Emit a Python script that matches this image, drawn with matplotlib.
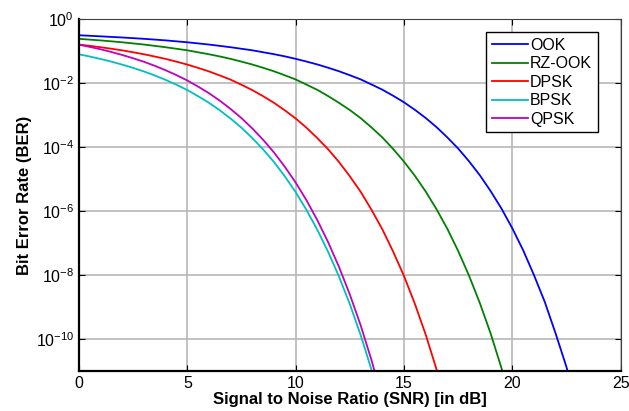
import matplotlib
matplotlib.use("Agg")
import matplotlib.pyplot as plt
from matplotlib.ticker import FixedLocator, LogFormatterMathtext

plt.rcParams["font.family"] = ["Liberation Sans", "DejaVu Sans"]
plt.rcParams["mathtext.fontset"] = "custom"
plt.rcParams["mathtext.rm"] = "Liberation Sans"
plt.rcParams["mathtext.it"] = "Liberation Sans"

# values (SNR in dB -> BER)
ook_snr = [0, 1, 2, 3, 4, 5, 6, 7, 8, 9, 9.5, 10, 10.5, 11, 11.5, 12, 12.5,
           13, 13.5, 14, 14.5, 15, 15.5, 16, 16.5, 17, 17.5, 18, 18.5, 19,
           19.5, 20, 20.5, 21, 21.5, 22, 22.5, 23]
ook = [0.31, 0.287, 0.264, 0.240, 0.2145, 0.187, 0.159, 0.131, 0.105, 0.0795,
       0.068, 0.0569, 0.0468, 0.038, 0.030, 0.0233, 0.0175, 0.013, 0.0090,
       0.0062, 0.0040, 0.0025, 0.00146, 8.1e-4, 4.2e-4, 2.0e-4, 9.0e-5,
       3.6e-5, 1.32e-5, 4.2e-6, 1.2e-6, 2.9e-7, 6.0e-8, 1.0e-8, 1.45e-9,
       1.5e-10, 1.35e-11, 8.3e-13]

rz_snr = [0, 1, 2, 3, 4, 5, 6, 6.5, 7, 7.5, 8, 8.5, 9, 9.5, 10, 10.5, 11,
          11.5, 12, 12.5, 13, 13.5, 14, 14.5, 15, 15.5, 16, 16.5, 17, 17.5,
          18, 18.5, 19, 19.5, 20]
rz_ook = [0.24, 0.214, 0.187, 0.159, 0.131, 0.105, 0.079, 0.0675, 0.0567,
          0.0466, 0.0378, 0.0298, 0.0232, 0.0174, 0.0129, 0.0089, 0.0061,
          0.0039, 0.0024, 0.00143, 8.0e-4, 4.1e-4, 2.0e-4, 8.7e-5, 3.5e-5,
          1.27e-5, 4.1e-6, 1.15e-6, 2.8e-7, 5.7e-8, 9.7e-9, 1.35e-9, 1.5e-10,
          1.25e-11, 7.7e-13]

dpsk_snr = [0, 0.5, 1, 1.5, 2, 2.5, 3, 3.5, 4, 4.5, 5, 5.5, 6, 6.5, 7, 7.5,
            8, 8.5, 9, 9.5, 10, 10.5, 11, 11.5, 12, 12.5, 13, 13.5, 14, 14.5,
            15, 15.5, 16, 16.5, 17]
dpsk = [0.1587, 0.145, 0.131, 0.1175, 0.1046, 0.0911, 0.0789, 0.0671, 0.0565,
        0.0464, 0.0376, 0.0296, 0.023, 0.0172, 0.0127, 0.0088, 0.006, 0.00386,
        0.0024, 0.0014, 7.8e-4, 4.0e-4, 1.9e-4, 8.5e-5, 3.4e-5, 1.22e-5,
        4.0e-6, 1.1e-6, 2.7e-7, 5.4e-8, 9.4e-9, 1.28e-9, 1.4e-10, 1.15e-11,
        7.2e-13]

psk_snr = [0, 0.5, 1, 1.5, 2, 2.5, 3, 3.5, 4, 4.5, 5, 5.5, 6, 6.5, 7, 7.5, 8,
           8.5, 9, 9.5, 10, 10.5, 11, 11.5, 12, 12.5, 13, 13.5, 14]
bpsk = [0.0786, 0.0671, 0.0563, 0.0464, 0.0374, 0.0296, 0.0229, 0.0172,
        0.0125, 0.0088, 0.006, 0.00386, 0.0024, 0.0014, 7.7e-4, 4.0e-4,
        1.9e-4, 8.4e-5, 3.4e-5, 1.21e-5, 3.9e-6, 1.08e-6, 2.6e-7, 5.3e-8,
        9.0e-9, 1.24e-9, 1.34e-10, 1.1e-11, 6.8e-13]
qpsk = [0.157, 0.134, 0.113, 0.0928, 0.075, 0.0592, 0.046, 0.0344, 0.025,
        0.0176, 0.012, 0.0077, 0.0048, 0.0028, 1.54e-3, 8.0e-4, 3.8e-4,
        1.68e-4, 6.75e-5, 2.42e-5, 7.75e-6, 2.17e-6, 5.2e-7, 1.06e-7, 1.8e-8,
        2.48e-9, 2.7e-10, 2.2e-11, 1.4e-12]

series = [
    ("OOK", ook_snr, ook, "#0000ff"),
    ("RZ-OOK", rz_snr, rz_ook, "#008000"),
    ("DPSK", dpsk_snr, dpsk, "#ff0000"),
    ("BPSK", psk_snr, bpsk, "#00bfbf"),
    ("QPSK", psk_snr, qpsk, "#bf00bf"),
]

fig = plt.figure(figsize=(6.29, 4.11), dpi=100)
ax = fig.add_axes([0.1256, 0.0973, 0.861, 0.8565])

for name, x, vals, col in series:
    ax.semilogy(x, vals, color=col, lw=1.3, label=name)

ax.set_xlim(0, 25)
ax.set_ylim(1e-11, 1)
ax.set_xticks([0, 5, 10, 15, 20, 25])
ax.yaxis.set_major_locator(FixedLocator([1e-10, 1e-8, 1e-6, 1e-4, 1e-2, 1]))
ax.yaxis.set_major_formatter(LogFormatterMathtext())
ax.yaxis.set_minor_locator(FixedLocator([]))
ax.grid(True, color="#b8b8b8", lw=1.2)
ax.tick_params(direction="in", top=True, right=True, labelsize=11.5, length=4)

for s in ["left", "bottom"]:
    ax.spines[s].set_linewidth(1.6)
for s in ["top", "right"]:
    ax.spines[s].set_linewidth(0.8)
    ax.spines[s].set_color("#404040")

ax.set_xlabel("Signal to Noise Ratio (SNR) [in dB]", fontsize=12,
              fontweight="bold", labelpad=1)
ax.set_ylabel("Bit Error Rate (BER)", fontsize=12, fontweight="bold",
              labelpad=3)

leg = ax.legend(loc="upper right", bbox_to_anchor=(0.9576, 0.963),
                borderaxespad=0, fontsize=11.5, fancybox=False,
                framealpha=1, edgecolor="black", handlelength=2.3,
                handletextpad=0.1, borderpad=0.35, labelspacing=0.22)
leg.get_frame().set_linewidth(1.0)

fig.savefig("out.png", dpi=100)
